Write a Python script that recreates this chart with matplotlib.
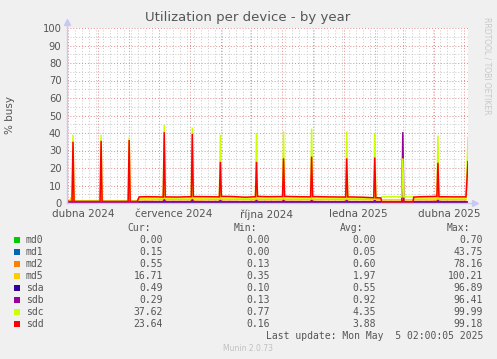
import numpy as np
import matplotlib.pyplot as plt
import matplotlib.dates as mdates
from matplotlib.ticker import NullFormatter, MultipleLocator
from matplotlib.patches import Rectangle

W, H = 497, 359

start = np.datetime64('2024-03-31T02:00')
end = np.datetime64('2025-05-05T02:00')

# day offsets from start
days = [0, 2, 5, 6, 7, 15, 25, 33, 34, 35,
        45, 55, 61, 62, 63, 70, 72, 80, 90, 96,
        97, 98, 110, 124, 125, 126, 140, 152, 153, 154,
        165, 178, 188, 189, 190, 200, 215, 216, 217, 230,
        243, 244, 245, 260, 278, 279, 280, 295, 306, 307,
        308, 313, 314, 325, 334, 335, 336, 345, 346, 355,
        369, 370, 371, 385, 398, 400]

md0 = [0.0, 0.0, 0.0, 0.0, 0.0, 0.0, 0.0, 0.0, 0.0, 0.0,
       0.0, 0.0, 0.0, 0.0, 0.0, 0.0, 0.0, 0.0, 0.0, 0.0,
       0.0, 0.0, 0.0, 0.0, 0.0, 0.0, 0.0, 0.0, 0.0, 0.0,
       0.0, 0.0, 0.0, 0.0, 0.0, 0.0, 0.0, 0.0, 0.0, 0.0,
       0.0, 0.0, 0.0, 0.0, 0.0, 0.0, 0.0, 0.0, 0.0, 0.0,
       0.0, 0.0, 0.0, 0.0, 0.0, 0.0, 0.0, 0.0, 0.0, 0.0,
       0.0, 0.0, 0.0, 0.0, 0.0, 0.0]
md1 = [0.05, 0.05, 0.05, 0.1, 0.05, 0.05, 0.05, 0.05, 0.1, 0.05,
       0.05, 0.05, 0.05, 0.1, 0.05, 0.05, 0.05, 0.05, 0.05, 0.05,
       0.1, 0.05, 0.05, 0.05, 0.1, 0.05, 0.05, 0.05, 0.1, 0.05,
       0.05, 0.05, 0.05, 0.1, 0.05, 0.05, 0.05, 0.1, 0.05, 0.05,
       0.05, 0.1, 0.05, 0.05, 0.05, 0.1, 0.05, 0.05, 0.05, 0.1,
       0.05, 0.05, 0.05, 0.05, 0.05, 0.1, 0.05, 0.05, 0.05, 0.05,
       0.05, 0.1, 0.05, 0.05, 0.05, 0.15]
md2 = [0.4, 0.3, 0.3, 10.0, 0.3, 0.3, 0.3, 0.3, 10.0, 0.3,
       0.3, 0.3, 0.3, 10.0, 0.3, 0.3, 1.0, 1.1, 1.0, 1.0,
       12.0, 1.0, 1.0, 1.0, 12.0, 1.1, 1.0, 1.0, 12.0, 1.0,
       1.0, 0.9, 1.0, 12.0, 1.0, 1.0, 1.0, 12.0, 1.0, 1.0,
       0.9, 12.0, 1.0, 0.9, 0.9, 12.0, 0.9, 0.9, 0.9, 12.0,
       0.9, 0.9, 0.9, 0.9, 0.9, 6.0, 0.9, 0.9, 1.0, 1.0,
       1.1, 12.0, 1.0, 1.0, 1.0, 0.55]
md5 = [1.0, 0.6, 4.0, 14.0, 0.5, 0.5, 0.5, 0.5, 14.0, 0.5,
       0.5, 0.5, 0.5, 14.0, 0.5, 0.5, 2.2, 2.3, 2.2, 2.1,
       16.0, 2.2, 2.1, 2.2, 16.0, 2.3, 2.2, 2.1, 16.0, 2.2,
       2.2, 2.0, 2.1, 16.0, 2.2, 2.1, 2.2, 16.0, 2.2, 2.1,
       2.0, 16.0, 2.1, 2.0, 2.0, 16.0, 2.1, 2.0, 1.9, 16.0,
       1.9, 1.9, 1.8, 1.8, 1.8, 10.0, 1.8, 1.8, 2.1, 2.2,
       2.3, 16.0, 2.2, 2.1, 2.1, 16.71]
sda = [0.5, 0.3, 0.3, 1.0, 0.3, 0.3, 0.3, 0.3, 1.0, 0.3,
       0.3, 0.3, 0.3, 1.0, 0.3, 0.3, 0.4, 0.4, 0.4, 0.4,
       1.0, 0.4, 0.4, 0.4, 1.0, 0.4, 0.4, 0.4, 1.0, 0.4,
       0.4, 0.4, 0.4, 1.0, 0.4, 0.4, 0.4, 1.0, 0.4, 0.4,
       0.4, 1.0, 0.4, 0.4, 0.4, 1.0, 0.4, 0.4, 0.4, 1.0,
       0.4, 0.4, 0.4, 0.4, 0.4, 1.0, 0.4, 0.4, 0.4, 0.4,
       0.4, 1.0, 0.4, 0.4, 0.4, 0.49]
sdb = [2.0, 0.3, 0.3, 2.0, 0.3, 0.3, 0.3, 0.3, 1.5, 0.3,
       0.3, 0.3, 0.3, 1.5, 0.3, 0.3, 0.7, 0.7, 0.7, 0.7,
       2.0, 0.7, 0.7, 0.7, 2.0, 0.7, 0.7, 0.7, 1.5, 0.7,
       0.7, 0.7, 0.7, 1.5, 0.7, 0.7, 0.7, 1.5, 0.7, 0.7,
       0.7, 1.5, 0.7, 0.7, 0.7, 1.5, 0.7, 0.7, 0.7, 1.5,
       0.7, 0.7, 0.7, 0.7, 0.7, 40.5, 0.7, 0.7, 0.7, 0.7,
       0.7, 1.5, 0.7, 0.7, 0.7, 0.29]
sdc = [1.0, 1.5, 1.2, 39.0, 1.2, 1.2, 1.3, 1.2, 39.0, 1.2,
       1.2, 1.2, 1.2, 37.5, 1.2, 1.2, 2.8, 2.9, 2.8, 2.8,
       44.5, 2.8, 2.8, 2.9, 43.0, 2.9, 2.8, 2.8, 39.0, 2.9,
       2.8, 2.7, 2.8, 40.0, 2.9, 2.8, 2.8, 41.0, 2.9, 2.8,
       2.8, 42.5, 2.9, 2.8, 2.7, 41.0, 2.8, 2.7, 2.6, 39.5,
       2.6, 2.6, 3.5, 3.6, 3.5, 25.5, 3.5, 3.5, 2.8, 2.9,
       3.0, 38.5, 2.9, 2.8, 2.8, 37.62]
sdd = [1.5, 0.9, 0.9, 35.0, 0.9, 0.9, 0.9, 0.9, 35.5, 0.9,
       0.9, 0.9, 0.9, 36.0, 0.9, 0.9, 3.5, 3.6, 3.5, 3.4,
       40.5, 3.5, 3.4, 3.6, 39.5, 3.7, 3.6, 3.5, 23.5, 3.8,
       3.7, 3.3, 3.6, 23.5, 3.8, 3.6, 3.7, 25.5, 3.8, 3.6,
       3.5, 26.5, 3.7, 3.5, 3.4, 25.5, 3.5, 3.3, 3.0, 26.0,
       3.0, 2.9, 0.6, 0.6, 0.6, 1.5, 0.6, 0.6, 3.4, 3.6,
       3.8, 23.0, 3.6, 3.5, 3.5, 23.64]

names = ['md0', 'md1', 'md2', 'md5', 'sda', 'sdb', 'sdc', 'sdd']
colors = ['#00CC00', '#0066B3', '#FF8000', '#FFCC00',
          '#330099', '#990099', '#CCFF00', '#FF0000']
cur = ['0.00', '0.15', '0.55', '16.71', '0.49', '0.29', '37.62', '23.64']
vmin = ['0.00', '0.00', '0.13', '0.35', '0.10', '0.13', '0.77', '0.16']
vavg = ['0.00', '0.05', '0.60', '1.97', '0.55', '0.92', '4.35', '3.88']
vmax = ['0.70', '43.75', '78.16', '100.21', '96.89', '96.41', '99.99', '99.18']

month_labels = ['dubna 2024', 'července 2024', 'října 2024', 'ledna 2025', 'dubna 2025']
label_dates = ['2024-04-16', '2024-07-16', '2024-10-16', '2025-01-16', '2025-04-16']

t = start + np.array(days) * np.timedelta64(1, 'D')
series = [md0, md1, md2, md5, sda, sdb, sdc, sdd]

fig = plt.figure(figsize=(W / 100, H / 100), dpi=100, facecolor='#F0F0F0')
ax = fig.add_axes([67 / W, 1 - 203 / H, 401 / W, 175 / H], facecolor='white')

for vals, c in zip(series, colors):
    ax.plot(t, vals, color=c, lw=1.1, solid_joinstyle='miter')

ax.set_xlim(start, end)
ax.set_ylim(0, 100)

ax.yaxis.set_major_locator(MultipleLocator(10))
ax.yaxis.set_minor_locator(MultipleLocator(5))
ax.xaxis.set_major_locator(mdates.MonthLocator())
ax.xaxis.set_minor_locator(mdates.WeekdayLocator(byweekday=mdates.MO))
ax.xaxis.set_major_formatter(NullFormatter())

ax.grid(which='minor', color='#C8C8C8', lw=0.7, ls=(0, (1, 2)))
ax.grid(which='major', color='#E08C8C', lw=0.7, ls=(0, (1, 2)))
ax.set_axisbelow(True)

ax.tick_params(which='both', length=0)
ax.tick_params(axis='y', labelsize=7.2, labelcolor='#555555', pad=4)
for s in ax.spines.values():
    s.set_visible(False)

# axis lines with arrows
axis_col = '#C8C8F4'
ax.plot([0, 0], [0, 1.03], color=axis_col, lw=1, transform=ax.transAxes, clip_on=False)
ax.plot([0, 1.015], [0, 0], color=axis_col, lw=1, transform=ax.transAxes, clip_on=False)
ax.plot([0], [1.035], marker='^', ms=4, color=axis_col, transform=ax.transAxes, clip_on=False)
ax.plot([1.018], [0], marker='>', ms=4, color=axis_col, transform=ax.transAxes, clip_on=False)

sec = ax.secondary_xaxis('bottom')
sec.set_xticks([np.datetime64(d) for d in label_dates], month_labels)
sec.tick_params(length=0, labelsize=7.5, labelcolor='#555555', pad=4.5)
sec.spines['bottom'].set_visible(False)

fig.text(248 / W, 1 - 18 / H, 'Utilization per device - by year', ha='center', va='center',
         fontsize=9.5, color='#555555')
fig.text(10 / W, 1 - 115 / H, '% busy', rotation=90, ha='center', va='center',
         fontsize=7.5, color='#555555')
fig.text(487 / W, 1 - 17 / H, 'RRDTOOL / TOBI OETIKER', rotation=270, ha='center', va='top',
         fontsize=5.5, color='#C8C8C8')

mono = 'DejaVu Sans Mono'
tc = '#555555'
hy = 227.7
for x, h in zip([151, 257, 363, 470], ['Cur:', 'Min:', 'Avg:', 'Max:']):
    fig.text(x / W, 1 - hy / H, h, ha='right', va='center', family=mono, fontsize=7, color=tc)

for i, n in enumerate(names):
    y = 239.7 + 12 * i
    fig.add_artist(Rectangle((14 / W, 1 - (y + 3) / H), 6 / W, 6 / H,
                             transform=fig.transFigure, color=colors[i], lw=0))
    fig.text(26 / W, 1 - y / H, n, ha='left', va='center', family=mono, fontsize=7, color=tc)
    for x, v in zip([163, 270, 376, 483], [cur[i], vmin[i], vavg[i], vmax[i]]):
        fig.text(x / W, 1 - y / H, v, ha='right', va='center', family=mono, fontsize=7, color=tc)

fig.text(483 / W, 1 - 335.7 / H, 'Last update: Mon May  5 02:00:05 2025', ha='right', va='center',
         family=mono, fontsize=7, color=tc)
fig.text(248 / W, 1 - 348.3 / H, 'Munin 2.0.73', ha='center', va='center',
         fontsize=5.5, color='#C0C0C0')

fig.savefig('out.png', dpi=100, facecolor=fig.get_facecolor())
